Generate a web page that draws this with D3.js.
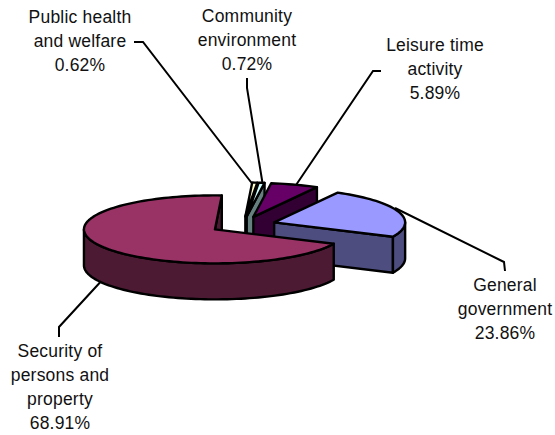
<!DOCTYPE html>
<html><head><meta charset="utf-8">
<script src="https://cdn.jsdelivr.net/npm/d3@7/dist/d3.min.js"></script>
<style>html,body{margin:0;padding:0;background:#fff}svg{display:block}text{font-family:"Liberation Sans",Arial,sans-serif;font-size:17.5px;letter-spacing:.2px;fill:#111}</style>
</head><body><svg id="c" width="555" height="435"></svg>
<script>
const categories=["Public health and welfare","Community environment","Leisure time activity","General government","Security of persons and property"];
const values=[0.62,0.72,5.89,23.86,68.91];
const topColors=["#ffffcc","#ccffff","#660066","#9999ff","#993366"];
const sideColors=["#808066","#668080","#330033","#4d4d80","#4d1a33"];
const labelLines=[["Public health","and welfare","0.62%"],["Community","environment","0.72%"],["Leisure time","activity","5.89%"],["General","government","23.86%"],["Security of","persons and","property","68.91%"]];
const labelX=[80,247,435,505,60];
const labelY=[23,21.5,51,291,357];
const leaders=[[[134,42],[143,42],[254,186]],[[247,78],[247,88],[263,186]],[[381,71],[373,71],[294,188]],[[395,208],[504,262],[505,271]],[[59,337],[59,327],[105,277]]];

const cx=243,cy=225,rx=131,ry=34,depth=36,explode=0.25;
const deg=Math.PI/180;
const pie=d3.pie().sort(null).startAngle(3*deg).endAngle(363*deg);
const arcs=pie(values);
const svg=d3.select("#c");
const line=d3.line();
function P(o,a,r=1,d=0){return [o[0]+r*rx*Math.sin(a),o[1]-r*ry*Math.cos(a)+d];}
function sample(a0,a1){const n=Math.max(2,Math.ceil((a1-a0)/deg/2));return d3.range(n+1).map(i=>a0+(a1-a0)*i/n);}
const lg=svg.append("g").attr("fill","none").attr("stroke","#000").attr("stroke-width",2);
leaders.forEach(l=>lg.append("path").attr("d",line(l)));
const g=svg.append("g").attr("stroke","#000").attr("stroke-width",2.4).attr("stroke-linejoin","round");
arcs.forEach((s,i)=>{
  const mid=(s.startAngle+s.endAngle)/2;
  const o=P([cx,cy],mid,explode);
  const draw=(pts,fill)=>g.append("path").attr("d",line(pts)+"Z").attr("fill",fill);
  if(Math.sin(s.endAngle)>0){const e=P(o,s.endAngle);draw([o,e,[e[0],e[1]+depth],[o[0],o[1]+depth]],sideColors[i]);}
  if(Math.sin(s.startAngle)<0){const e=P(o,s.startAngle);draw([o,e,[e[0],e[1]+depth],[o[0],o[1]+depth]],sideColors[i]);}
  const a0=Math.max(s.startAngle,90*deg),a1=Math.min(s.endAngle,270*deg);
  if(a1>a0){const as=sample(a0,a1);draw(as.map(a=>P(o,a)).concat(as.slice().reverse().map(a=>P(o,a,1,depth))),sideColors[i]);}
  draw([o].concat(sample(s.startAngle,s.endAngle).map(a=>P(o,a))),topColors[i]);
});
labelLines.forEach((ls,i)=>{
  const t=svg.append("text").attr("text-anchor","middle");
  ls.forEach((s,j)=>t.append("tspan").attr("x",labelX[i]).attr("y",labelY[i]+j*24).text(s));
});
</script></body></html>
